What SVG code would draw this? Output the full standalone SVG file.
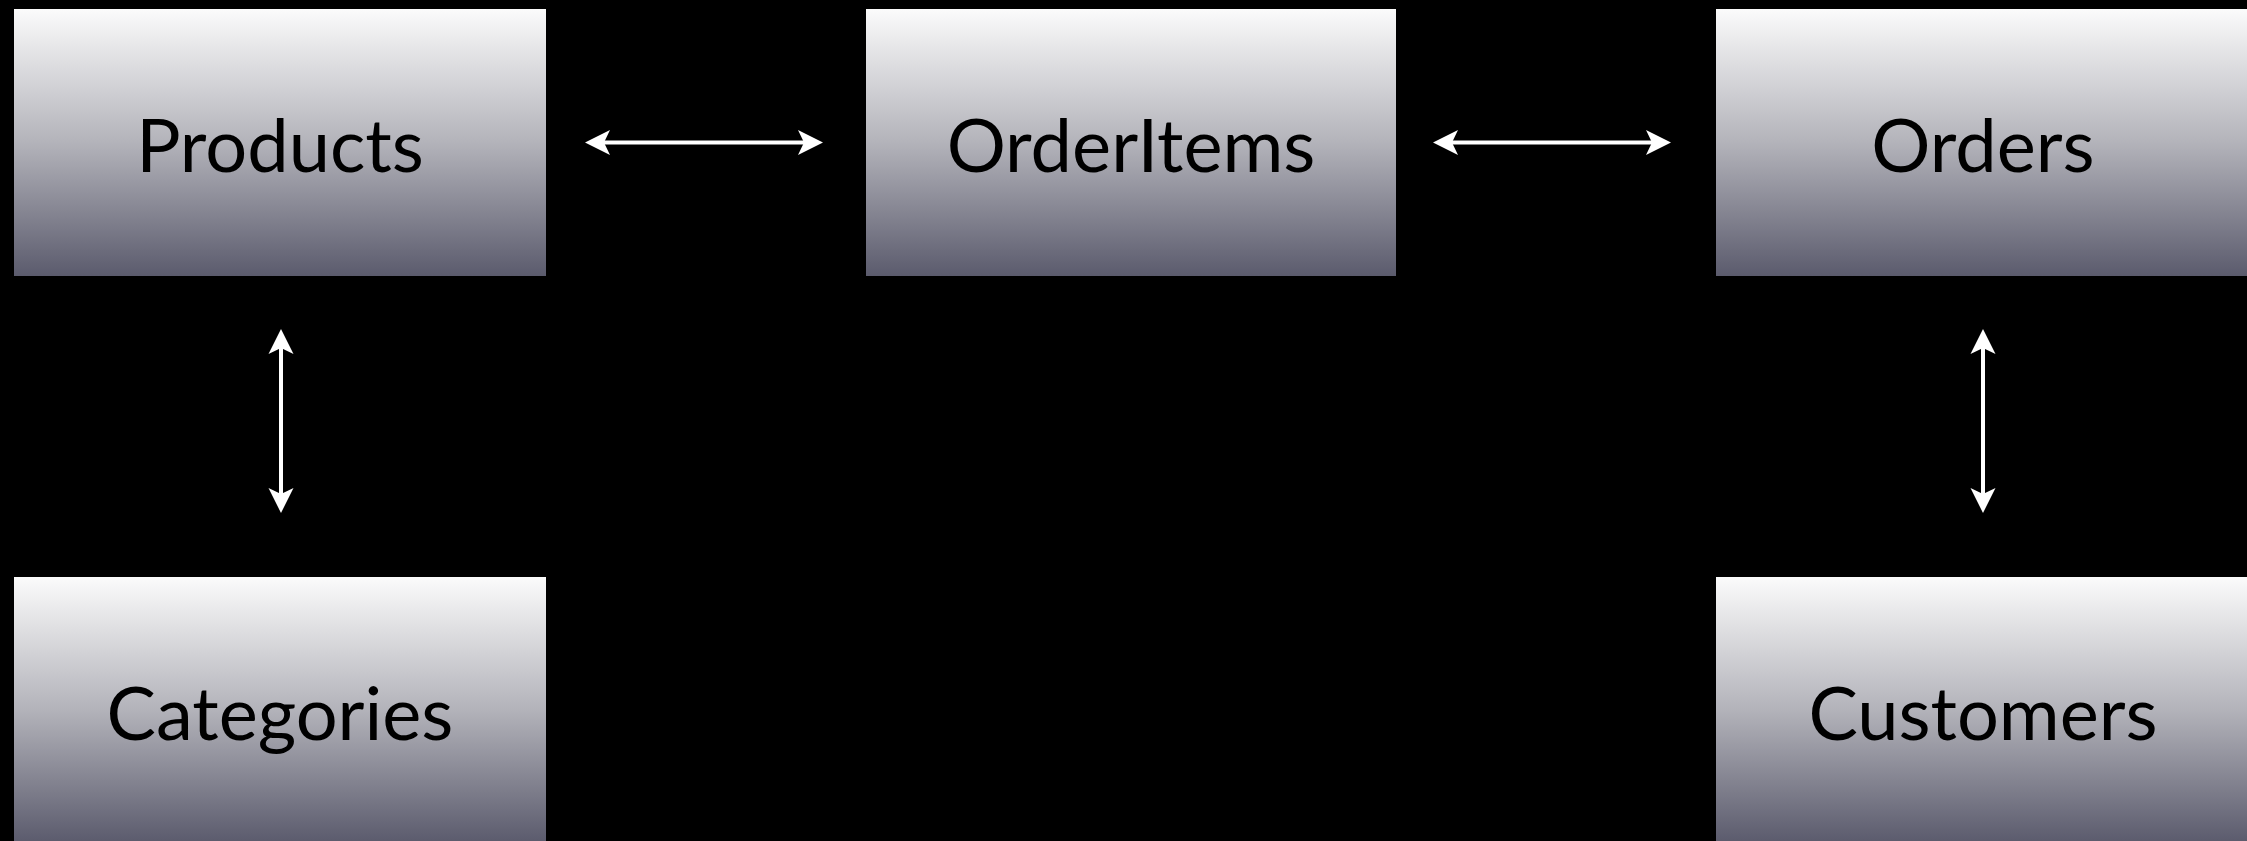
<svg xmlns="http://www.w3.org/2000/svg" width="2247" height="841" viewBox="0 0 2247 841">
<defs>
<linearGradient id="boxGrad" x1="0" y1="0" x2="0" y2="1">
<stop offset="0" stop-color="#fbfbfb"/>
<stop offset="0.5" stop-color="#b3b3ba"/>
<stop offset="1" stop-color="#5b5b6d"/>
</linearGradient>
<marker id="head" viewBox="0 -13 26 26" refX="6" refY="0" markerWidth="26" markerHeight="26" markerUnits="userSpaceOnUse" orient="auto-start-reverse">
<path d="M0,-12.5 L25,0 L0,12.5 L6,0 Z" fill="#ffffff"/>
</marker>
</defs>
<style>
.box{fill:url(#boxGrad);}
.lbl{font-family:Lato,"Open Sans","Liberation Sans",sans-serif;font-size:74px;fill:#000;text-anchor:middle;}
.conn{stroke:#ffffff;stroke-width:4;fill:none;marker-start:url(#head);marker-end:url(#head);}
</style>
<rect width="2247" height="841" fill="#000000"/>
<g id="products"><rect class="box" x="14" y="9" width="532" height="267"/><text class="lbl" x="280" y="172">Products</text></g>
<g id="orderitems"><rect class="box" x="866" y="9" width="530" height="267"/><text class="lbl" x="1131" y="172">OrderItems</text></g>
<g id="orders"><rect class="box" x="1716" y="9" width="532" height="267"/><text class="lbl" x="1983" y="172">Orders</text></g>
<g id="categories"><rect class="box" x="14" y="577" width="532" height="265"/><text class="lbl" x="280" y="740">Categories</text></g>
<g id="customers"><rect class="box" x="1716" y="577" width="532" height="265"/><text class="lbl" x="1983" y="740">Customers</text></g>
<g id="connectors">
<line class="conn" x1="604" y1="142.5" x2="804" y2="142.5"/>
<line class="conn" x1="1452" y1="142.5" x2="1652" y2="142.5"/>
<line class="conn" x1="281" y1="348" x2="281" y2="494"/>
<line class="conn" x1="1983" y1="348" x2="1983" y2="494"/>
</g>
</svg>
